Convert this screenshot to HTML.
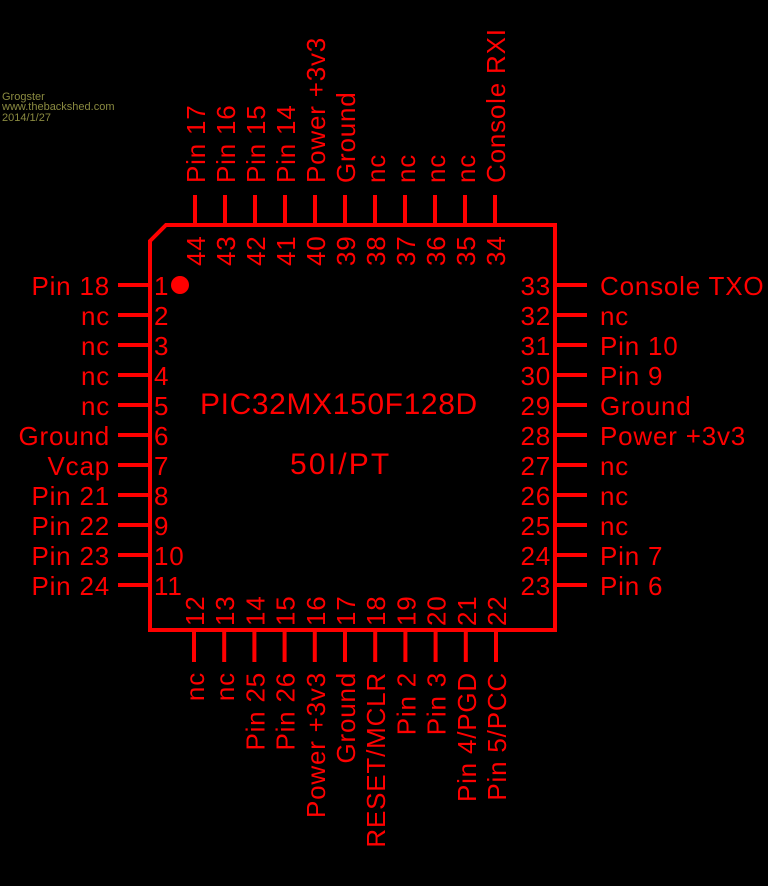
<!DOCTYPE html>
<html><head><meta charset="utf-8"><style>
html,body{margin:0;padding:0;background:#000;}
svg{display:block;}
text{font-family:"Liberation Sans",sans-serif;fill:#f00;font-size:26px;letter-spacing:0.8px;}
.c{font-size:11px;fill:#8a8a40;letter-spacing:0;}
</style></head><body>
<svg width="768" height="886" viewBox="0 0 768 886" xmlns="http://www.w3.org/2000/svg">
<text class="c" x="2" y="100">Grogster</text>
<text class="c" x="2" y="110">www.thebackshed.com</text>
<text class="c" x="2" y="121">2014/1/27</text>
<g stroke="#f00" stroke-width="4" fill="none">
<path d="M150,241 L166,225 L555,225 L555,630 L150,630 Z"/>
</g>
<circle cx="180" cy="285" r="9" fill="#f00"/>
<g stroke="#f00" stroke-width="4" id="pins"></g>
<g id="t"></g>
<text x="200" y="414" style="font-size:30px" textLength="278">PIC32MX150F128D</text>
<text x="290" y="474" style="font-size:30px" textLength="100">50I/PT</text>
</svg>
<script>
var ns="http://www.w3.org/2000/svg",P=document.getElementById("pins"),T=document.getElementById("t");
function ln(a,b,c,d){var l=document.createElementNS(ns,"line");l.setAttribute("x1",a);l.setAttribute("y1",b);l.setAttribute("x2",c);l.setAttribute("y2",d);P.appendChild(l);}
function tx(s,x,y,anc,rot){var t=document.createElementNS(ns,"text");t.textContent=s;t.setAttribute("x",x);t.setAttribute("y",y);if(anc)t.setAttribute("text-anchor",anc);if(rot)t.setAttribute("transform","rotate(-90 "+x+" "+y+")");T.appendChild(t);}
var L=["Pin 18","nc","nc","nc","nc","Ground","Vcap","Pin 21","Pin 22","Pin 23","Pin 24"];
for(var i=0;i<11;i++){var y=285+30*i;ln(118,y,150,y);tx(L[i],110,y+10,"end");tx(String(i+1),154,y+10);}
var B=["nc","nc","Pin 25","Pin 26","Power +3v3","Ground","RESET/MCLR","Pin 2","Pin 3","Pin 4/PGD","Pin 5/PCC"];
for(var i=0;i<11;i++){var x=194+30.2*i;ln(x,630,x,662);tx(B[i],x+10,672,"end",1);tx(String(12+i),x+10,626,null,1);}
var R=["Pin 6","Pin 7","nc","nc","nc","Power +3v3","Ground","Pin 9","Pin 10","nc","Console TXO"];
for(var i=0;i<11;i++){var y=585-30*i;ln(555,y,587,y);tx(R[i],600,y+10);tx(String(23+i),551,y+10,"end");}
var U=["Console RXI","nc","nc","nc","nc","Ground","Power +3v3","Pin 14","Pin 15","Pin 16","Pin 17"];
for(var i=0;i<11;i++){var x=495-30*i;ln(x,195,x,225);tx(U[i],x+10,183,null,1);tx(String(34+i),x+10,266,null,1);}
</script>
</body></html>
